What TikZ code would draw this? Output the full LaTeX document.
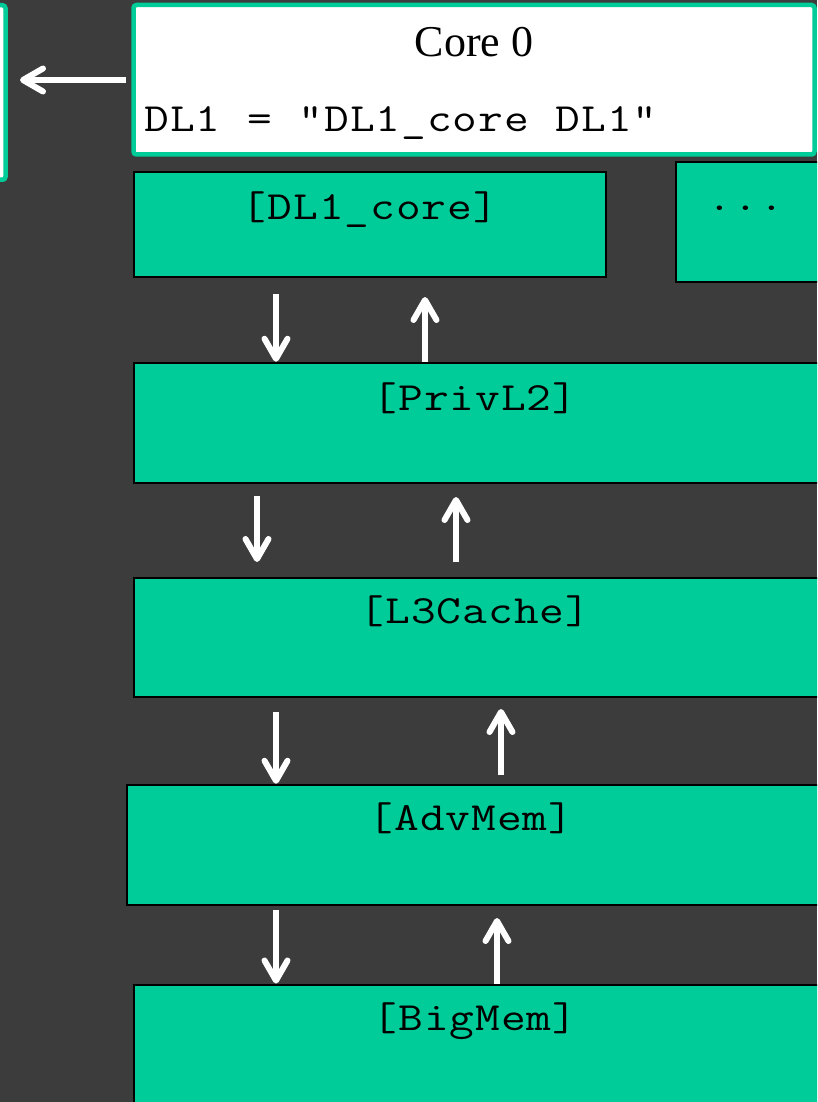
\documentclass[tikz,border=0pt]{standalone}
\usepackage{fontspec}
\usepackage{graphicx}
\usetikzlibrary{arrows.meta}
\newfontfamily\coreserif{Liberation Serif}
\definecolor{bgdark}{HTML}{3C3C3C}
\definecolor{cachegreen}{HTML}{00CC99}
% fixed-pitch cells for the typewriter labels
\newlength\cellw
\setlength\cellw{25.7pt}
\def\cellrun#1{\ifx#1\relax\else\makebox[\cellw][c]{\scalebox{1.2}[1]{#1}}\expandafter\cellrun\fi}
\newcommand\cells[1]{{\ttfamily\fontsize{40}{48}\selectfont\cellrun#1\relax}}
\tikzset{
  cachebox/.style={draw=black, line width=2.5pt, fill=cachegreen, anchor=north west,
    inner sep=0pt, outer sep=0pt},
  corebox/.style={draw=cachegreen, line width=4.5pt, fill=white, rounded corners=3pt,
    anchor=north west, inner sep=0pt, outer sep=0pt},
  lbl/.style={inner sep=0pt, outer sep=0pt, anchor=base, text=black},
  flow/.style={draw=white, line width=6pt,
    -{Straight Barb[length=20pt, width=23pt, line cap=round, line join=round]}},
}
\begin{document}
\begin{tikzpicture}[x=1pt, y=-1pt]
\useasboundingbox (0,0) rectangle (817,1102);
\clip (0,0) rectangle (817,1102);
\fill[bgdark] (0,0) rectangle (817,1102);

% neighbouring core panel and core 0 panel
\node[corebox, minimum width=60pt, minimum height=174.5pt] (prev) at (-54.5,5.25) {};
\node[corebox, minimum width=681pt, minimum height=149.5pt] (core) at (133.5,5) {};
\node[lbl, font=\coreserif\fontsize{44}{52}\selectfont] (coretitle) at (474,57) {Core 0};
\node[lbl, anchor=base west] (coredef) at (144,132) {\cells{DL1~=~"DL1\_core~DL1"}};

% cache hierarchy
\node[cachebox, minimum width=472pt, minimum height=105pt] (dl1) at (134,172) {};
\node[cachebox, minimum width=144pt, minimum height=120pt] (more) at (676,162) {};
\node[cachebox, minimum width=686pt, minimum height=120pt] (priv) at (134,363) {};
\node[cachebox, minimum width=686pt, minimum height=119pt] (l3) at (134,578) {};
\node[cachebox, minimum width=693pt, minimum height=120pt] (adv) at (127,785) {};
\node[cachebox, minimum width=686pt, minimum height=125pt] (big) at (134,985) {};

\node[lbl] (dl1txt) at (370,219) {\cells{[DL1\_core]}};
\node[lbl] (moretxt) at (746,210) {\cells{...}};
\node[lbl] (privtxt) at (475,410) {\cells{[PrivL2]}};
\node[lbl] (l3txt) at (475,623) {\cells{[L3Cache]}};
\node[lbl] (advtxt) at (471,830) {\cells{[AdvMem]}};
\node[lbl] (bigtxt) at (475,1030) {\cells{[BigMem]}};

% arrow columns
\coordinate (rowA) at (0,80);
\coordinate (c257) at (257,0);
\coordinate (c276) at (276,0);
\coordinate (c425) at (425,0);
\coordinate (c456) at (456,0);
\coordinate (c497) at (497,0);
\coordinate (c501) at (501,0);

\draw[flow, shorten <=7.5pt, shorten >=14.5pt] (core.west |- rowA) -- (prev.east |- rowA);

\draw[flow, shorten <=17pt, shorten >=1.25pt] (dl1.south -| c276) -- (priv.north -| c276);
\draw[flow, shorten <=1.25pt, shorten >=20pt] (priv.north -| c425) -- (dl1.south -| c425);

\draw[flow, shorten <=13pt, shorten >=16pt] (priv.south -| c257) -- (l3.north -| c257);
\draw[flow, shorten <=16pt, shorten >=14pt] (l3.north -| c456) -- (priv.south -| c456);

\draw[flow, shorten <=15pt, shorten >=1.25pt] (l3.south -| c276) -- (adv.north -| c276);
\draw[flow, shorten <=10pt, shorten >=12pt] (adv.north -| c501) -- (l3.south -| c501);

\draw[flow, shorten <=5pt, shorten >=1.5pt] (adv.south -| c276) -- (big.north -| c276);
\draw[flow, shorten <=1.25pt, shorten >=13pt] (big.north -| c497) -- (adv.south -| c497);
\end{tikzpicture}
\end{document}
